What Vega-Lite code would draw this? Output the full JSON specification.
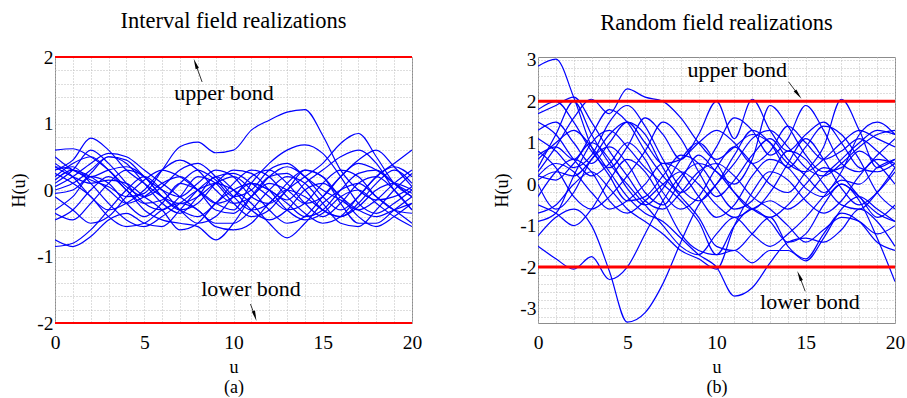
{
"$schema": "https://vega.github.io/schema/vega-lite/v6.json",
"background": "white",
"padding": {"left": 10, "top": 9, "right": 0, "bottom": 0},
"bounds": "flush",
"spacing": 126,
"config": {
  "font": "Liberation Serif, Times New Roman, serif",
  "view": {"stroke": "#8c8c8c", "strokeWidth": 1},
  "axis": {"labelFont": "Liberation Serif, Times New Roman, serif", "labelFontSize": 19.5, "labelColor": "#000000", "labelOverlap": false, "labelFlush": false, "titleFont": "Liberation Serif, Times New Roman, serif", "titleColor": "#000000", "titleFontWeight": "normal", "titleFontSize": 19.5, "domain": false, "ticks": false, "grid": true, "gridColor": "#bdbdbd", "gridDash": [1, 2], "gridWidth": 1},
  "title": {"font": "Liberation Serif, Times New Roman, serif", "fontSize": 22.5, "fontWeight": "normal", "color": "#000000", "offset": 15}
},
"datasets": {
"fieldA": [
{"c":"a1","u":0,"h":0.35},{"c":"a1","u":1,"h":0.3},{"c":"a1","u":2,"h":0.15},{"c":"a1","u":3,"h":0.05},{"c":"a1","u":4,"h":-0.1},{"c":"a1","u":5,"h":-0.05},{"c":"a1","u":6,"h":0.3},{"c":"a1","u":7,"h":0.65},{"c":"a1","u":8,"h":0.72},{"c":"a1","u":9,"h":0.56},{"c":"a1","u":10,"h":0.6},{"c":"a1","u":11,"h":0.9},{"c":"a1","u":12,"h":1.05},{"c":"a1","u":13,"h":1.17},{"c":"a1","u":14,"h":1.21},{"c":"a1","u":15,"h":0.82},{"c":"a1","u":16,"h":0.3},{"c":"a1","u":17,"h":0.0},{"c":"a1","u":18,"h":-0.15},{"c":"a1","u":19,"h":-0.1},{"c":"a1","u":20,"h":0.05},
{"c":"a2","u":0,"h":0.1},{"c":"a2","u":1,"h":0.3},{"c":"a2","u":2,"h":0.6},{"c":"a2","u":3,"h":0.4},{"c":"a2","u":4,"h":0.1},{"c":"a2","u":5,"h":-0.2},{"c":"a2","u":6,"h":-0.3},{"c":"a2","u":7,"h":-0.1},{"c":"a2","u":8,"h":0.2},{"c":"a2","u":9,"h":0.1},{"c":"a2","u":10,"h":-0.2},{"c":"a2","u":11,"h":-0.4},{"c":"a2","u":12,"h":-0.3},{"c":"a2","u":13,"h":0.0},{"c":"a2","u":14,"h":0.2},{"c":"a2","u":15,"h":0.4},{"c":"a2","u":16,"h":0.7},{"c":"a2","u":17,"h":0.85},{"c":"a2","u":18,"h":0.5},{"c":"a2","u":19,"h":0.1},{"c":"a2","u":20,"h":-0.1},
{"c":"a3","u":0,"h":-0.3},{"c":"a3","u":1,"h":-0.1},{"c":"a3","u":2,"h":0.2},{"c":"a3","u":3,"h":0.1},{"c":"a3","u":4,"h":-0.2},{"c":"a3","u":5,"h":-0.4},{"c":"a3","u":6,"h":-0.2},{"c":"a3","u":7,"h":0.1},{"c":"a3","u":8,"h":0.0},{"c":"a3","u":9,"h":-0.2},{"c":"a3","u":10,"h":-0.3},{"c":"a3","u":11,"h":0.1},{"c":"a3","u":12,"h":0.4},{"c":"a3","u":13,"h":0.6},{"c":"a3","u":14,"h":0.68},{"c":"a3","u":15,"h":0.55},{"c":"a3","u":16,"h":0.2},{"c":"a3","u":17,"h":-0.2},{"c":"a3","u":18,"h":-0.35},{"c":"a3","u":19,"h":-0.2},{"c":"a3","u":20,"h":0.0},
{"c":"a4","u":0,"h":-0.85},{"c":"a4","u":1,"h":-0.8},{"c":"a4","u":2,"h":-0.6},{"c":"a4","u":3,"h":-0.3},{"c":"a4","u":4,"h":0.0},{"c":"a4","u":5,"h":0.2},{"c":"a4","u":6,"h":0.0},{"c":"a4","u":7,"h":-0.3},{"c":"a4","u":8,"h":-0.5},{"c":"a4","u":9,"h":-0.4},{"c":"a4","u":10,"h":-0.1},{"c":"a4","u":11,"h":0.1},{"c":"a4","u":12,"h":0.0},{"c":"a4","u":13,"h":-0.2},{"c":"a4","u":14,"h":-0.4},{"c":"a4","u":15,"h":-0.3},{"c":"a4","u":16,"h":0.0},{"c":"a4","u":17,"h":0.25},{"c":"a4","u":18,"h":0.3},{"c":"a4","u":19,"h":0.1},{"c":"a4","u":20,"h":-0.1},
{"c":"a5","u":0,"h":-0.75},{"c":"a5","u":1,"h":-0.85},{"c":"a5","u":2,"h":-0.7},{"c":"a5","u":3,"h":-0.45},{"c":"a5","u":4,"h":-0.35},{"c":"a5","u":5,"h":-0.5},{"c":"a5","u":6,"h":-0.55},{"c":"a5","u":7,"h":-0.3},{"c":"a5","u":8,"h":0.0},{"c":"a5","u":9,"h":0.2},{"c":"a5","u":10,"h":0.25},{"c":"a5","u":11,"h":0.1},{"c":"a5","u":12,"h":-0.1},{"c":"a5","u":13,"h":-0.3},{"c":"a5","u":14,"h":-0.2},{"c":"a5","u":15,"h":0.1},{"c":"a5","u":16,"h":0.3},{"c":"a5","u":17,"h":0.2},{"c":"a5","u":18,"h":-0.1},{"c":"a5","u":19,"h":-0.3},{"c":"a5","u":20,"h":-0.35},
{"c":"a6","u":0,"h":0.3},{"c":"a6","u":1,"h":0.45},{"c":"a6","u":2,"h":0.78},{"c":"a6","u":3,"h":0.6},{"c":"a6","u":4,"h":0.3},{"c":"a6","u":5,"h":0.1},{"c":"a6","u":6,"h":-0.1},{"c":"a6","u":7,"h":-0.2},{"c":"a6","u":8,"h":-0.1},{"c":"a6","u":9,"h":0.1},{"c":"a6","u":10,"h":0.2},{"c":"a6","u":11,"h":0.0},{"c":"a6","u":12,"h":-0.3},{"c":"a6","u":13,"h":-0.5},{"c":"a6","u":14,"h":-0.4},{"c":"a6","u":15,"h":-0.1},{"c":"a6","u":16,"h":0.2},{"c":"a6","u":17,"h":0.4},{"c":"a6","u":18,"h":0.3},{"c":"a6","u":19,"h":0.1},{"c":"a6","u":20,"h":-0.05},
{"c":"a7","u":0,"h":0.6},{"c":"a7","u":1,"h":0.62},{"c":"a7","u":2,"h":0.5},{"c":"a7","u":3,"h":0.3},{"c":"a7","u":4,"h":0.05},{"c":"a7","u":5,"h":-0.1},{"c":"a7","u":6,"h":0.05},{"c":"a7","u":7,"h":0.3},{"c":"a7","u":8,"h":0.4},{"c":"a7","u":9,"h":0.2},{"c":"a7","u":10,"h":-0.1},{"c":"a7","u":11,"h":-0.3},{"c":"a7","u":12,"h":-0.2},{"c":"a7","u":13,"h":0.1},{"c":"a7","u":14,"h":0.3},{"c":"a7","u":15,"h":0.2},{"c":"a7","u":16,"h":-0.1},{"c":"a7","u":17,"h":-0.3},{"c":"a7","u":18,"h":-0.4},{"c":"a7","u":19,"h":-0.3},{"c":"a7","u":20,"h":-0.2},
{"c":"a8","u":0,"h":0.05},{"c":"a8","u":1,"h":0.2},{"c":"a8","u":2,"h":0.4},{"c":"a8","u":3,"h":0.55},{"c":"a8","u":4,"h":0.5},{"c":"a8","u":5,"h":0.3},{"c":"a8","u":6,"h":0.1},{"c":"a8","u":7,"h":-0.1},{"c":"a8","u":8,"h":-0.3},{"c":"a8","u":9,"h":-0.5},{"c":"a8","u":10,"h":-0.5},{"c":"a8","u":11,"h":-0.3},{"c":"a8","u":12,"h":0.0},{"c":"a8","u":13,"h":0.2},{"c":"a8","u":14,"h":0.1},{"c":"a8","u":15,"h":-0.2},{"c":"a8","u":16,"h":-0.5},{"c":"a8","u":17,"h":-0.55},{"c":"a8","u":18,"h":-0.3},{"c":"a8","u":19,"h":0.0},{"c":"a8","u":20,"h":0.25},
{"c":"a9","u":0,"h":0.25},{"c":"a9","u":1,"h":0.1},{"c":"a9","u":2,"h":-0.1},{"c":"a9","u":3,"h":-0.4},{"c":"a9","u":4,"h":-0.55},{"c":"a9","u":5,"h":-0.5},{"c":"a9","u":6,"h":-0.3},{"c":"a9","u":7,"h":-0.2},{"c":"a9","u":8,"h":-0.3},{"c":"a9","u":9,"h":-0.55},{"c":"a9","u":10,"h":-0.6},{"c":"a9","u":11,"h":-0.5},{"c":"a9","u":12,"h":-0.2},{"c":"a9","u":13,"h":0.0},{"c":"a9","u":14,"h":-0.1},{"c":"a9","u":15,"h":-0.3},{"c":"a9","u":16,"h":-0.4},{"c":"a9","u":17,"h":-0.2},{"c":"a9","u":18,"h":0.1},{"c":"a9","u":19,"h":0.3},{"c":"a9","u":20,"h":0.1},
{"c":"a10","u":0,"h":-0.45},{"c":"a10","u":1,"h":-0.3},{"c":"a10","u":2,"h":0.0},{"c":"a10","u":3,"h":0.2},{"c":"a10","u":4,"h":0.0},{"c":"a10","u":5,"h":-0.3},{"c":"a10","u":6,"h":-0.45},{"c":"a10","u":7,"h":-0.5},{"c":"a10","u":8,"h":-0.55},{"c":"a10","u":9,"h":-0.75},{"c":"a10","u":10,"h":-0.5},{"c":"a10","u":11,"h":-0.1},{"c":"a10","u":12,"h":0.2},{"c":"a10","u":13,"h":0.25},{"c":"a10","u":14,"h":0.0},{"c":"a10","u":15,"h":-0.3},{"c":"a10","u":16,"h":-0.4},{"c":"a10","u":17,"h":-0.25},{"c":"a10","u":18,"h":0.0},{"c":"a10","u":19,"h":0.1},{"c":"a10","u":20,"h":0.0},
{"c":"a11","u":0,"h":0.3},{"c":"a11","u":1,"h":0.35},{"c":"a11","u":2,"h":0.1},{"c":"a11","u":3,"h":-0.2},{"c":"a11","u":4,"h":-0.45},{"c":"a11","u":5,"h":-0.55},{"c":"a11","u":6,"h":-0.4},{"c":"a11","u":7,"h":-0.2},{"c":"a11","u":8,"h":0.0},{"c":"a11","u":9,"h":0.1},{"c":"a11","u":10,"h":0.0},{"c":"a11","u":11,"h":-0.2},{"c":"a11","u":12,"h":-0.5},{"c":"a11","u":13,"h":-0.72},{"c":"a11","u":14,"h":-0.5},{"c":"a11","u":15,"h":-0.2},{"c":"a11","u":16,"h":0.0},{"c":"a11","u":17,"h":0.1},{"c":"a11","u":18,"h":-0.1},{"c":"a11","u":19,"h":-0.3},{"c":"a11","u":20,"h":-0.5},
{"c":"a12","u":0,"h":0.0},{"c":"a12","u":1,"h":0.1},{"c":"a12","u":2,"h":0.3},{"c":"a12","u":3,"h":0.5},{"c":"a12","u":4,"h":0.45},{"c":"a12","u":5,"h":0.2},{"c":"a12","u":6,"h":0.0},{"c":"a12","u":7,"h":-0.1},{"c":"a12","u":8,"h":0.1},{"c":"a12","u":9,"h":0.3},{"c":"a12","u":10,"h":0.2},{"c":"a12","u":11,"h":-0.1},{"c":"a12","u":12,"h":-0.2},{"c":"a12","u":13,"h":0.0},{"c":"a12","u":14,"h":0.3},{"c":"a12","u":15,"h":0.2},{"c":"a12","u":16,"h":-0.2},{"c":"a12","u":17,"h":-0.5},{"c":"a12","u":18,"h":-0.5},{"c":"a12","u":19,"h":-0.3},{"c":"a12","u":20,"h":-0.1},
{"c":"a13","u":0,"h":0.4},{"c":"a13","u":1,"h":0.2},{"c":"a13","u":2,"h":-0.1},{"c":"a13","u":3,"h":-0.3},{"c":"a13","u":4,"h":-0.2},{"c":"a13","u":5,"h":0.0},{"c":"a13","u":6,"h":0.3},{"c":"a13","u":7,"h":0.45},{"c":"a13","u":8,"h":0.3},{"c":"a13","u":9,"h":0.0},{"c":"a13","u":10,"h":-0.2},{"c":"a13","u":11,"h":-0.1},{"c":"a13","u":12,"h":0.2},{"c":"a13","u":13,"h":0.35},{"c":"a13","u":14,"h":0.2},{"c":"a13","u":15,"h":-0.1},{"c":"a13","u":16,"h":-0.3},{"c":"a13","u":17,"h":-0.1},{"c":"a13","u":18,"h":0.2},{"c":"a13","u":19,"h":0.35},{"c":"a13","u":20,"h":0.2},
{"c":"a14","u":0,"h":-0.1},{"c":"a14","u":1,"h":-0.3},{"c":"a14","u":2,"h":-0.5},{"c":"a14","u":3,"h":-0.4},{"c":"a14","u":4,"h":-0.1},{"c":"a14","u":5,"h":0.15},{"c":"a14","u":6,"h":0.3},{"c":"a14","u":7,"h":0.2},{"c":"a14","u":8,"h":0.0},{"c":"a14","u":9,"h":-0.2},{"c":"a14","u":10,"h":-0.1},{"c":"a14","u":11,"h":0.2},{"c":"a14","u":12,"h":0.3},{"c":"a14","u":13,"h":0.1},{"c":"a14","u":14,"h":-0.2},{"c":"a14","u":15,"h":-0.4},{"c":"a14","u":16,"h":-0.2},{"c":"a14","u":17,"h":0.1},{"c":"a14","u":18,"h":0.2},{"c":"a14","u":19,"h":0.0},{"c":"a14","u":20,"h":-0.3},
{"c":"a15","u":0,"h":0.5},{"c":"a15","u":1,"h":0.3},{"c":"a15","u":2,"h":0.2},{"c":"a15","u":3,"h":0.3},{"c":"a15","u":4,"h":0.35},{"c":"a15","u":5,"h":0.2},{"c":"a15","u":6,"h":-0.1},{"c":"a15","u":7,"h":-0.3},{"c":"a15","u":8,"h":-0.4},{"c":"a15","u":9,"h":-0.2},{"c":"a15","u":10,"h":0.1},{"c":"a15","u":11,"h":0.3},{"c":"a15","u":12,"h":0.2},{"c":"a15","u":13,"h":-0.1},{"c":"a15","u":14,"h":-0.35},{"c":"a15","u":15,"h":-0.5},{"c":"a15","u":16,"h":-0.4},{"c":"a15","u":17,"h":-0.1},{"c":"a15","u":18,"h":0.2},{"c":"a15","u":19,"h":0.4},{"c":"a15","u":20,"h":0.6},
{"c":"a16","u":0,"h":0.15},{"c":"a16","u":1,"h":0.3},{"c":"a16","u":2,"h":0.2},{"c":"a16","u":3,"h":0.0},{"c":"a16","u":4,"h":-0.2},{"c":"a16","u":5,"h":-0.1},{"c":"a16","u":6,"h":0.1},{"c":"a16","u":7,"h":0.2},{"c":"a16","u":8,"h":0.0},{"c":"a16","u":9,"h":-0.3},{"c":"a16","u":10,"h":-0.35},{"c":"a16","u":11,"h":-0.1},{"c":"a16","u":12,"h":0.1},{"c":"a16","u":13,"h":0.0},{"c":"a16","u":14,"h":-0.2},{"c":"a16","u":15,"h":-0.1},{"c":"a16","u":16,"h":0.2},{"c":"a16","u":17,"h":0.45},{"c":"a16","u":18,"h":0.6},{"c":"a16","u":19,"h":0.35},{"c":"a16","u":20,"h":0.05},
{"c":"a17","u":0,"h":-0.35},{"c":"a17","u":1,"h":-0.45},{"c":"a17","u":2,"h":-0.2},{"c":"a17","u":3,"h":0.1},{"c":"a17","u":4,"h":0.3},{"c":"a17","u":5,"h":0.2},{"c":"a17","u":6,"h":-0.1},{"c":"a17","u":7,"h":-0.3},{"c":"a17","u":8,"h":-0.2},{"c":"a17","u":9,"h":0.1},{"c":"a17","u":10,"h":0.3},{"c":"a17","u":11,"h":0.25},{"c":"a17","u":12,"h":0.0},{"c":"a17","u":13,"h":-0.3},{"c":"a17","u":14,"h":-0.45},{"c":"a17","u":15,"h":-0.35},{"c":"a17","u":16,"h":-0.1},{"c":"a17","u":17,"h":0.0},{"c":"a17","u":18,"h":-0.2},{"c":"a17","u":19,"h":-0.4},{"c":"a17","u":20,"h":-0.55},
{"c":"a18","u":0,"h":0.2},{"c":"a18","u":1,"h":0.4},{"c":"a18","u":2,"h":0.5},{"c":"a18","u":3,"h":0.3},{"c":"a18","u":4,"h":0.0},{"c":"a18","u":5,"h":-0.2},{"c":"a18","u":6,"h":-0.15},{"c":"a18","u":7,"h":0.1},{"c":"a18","u":8,"h":0.3},{"c":"a18","u":9,"h":0.15},{"c":"a18","u":10,"h":-0.1},{"c":"a18","u":11,"h":0.0},{"c":"a18","u":12,"h":0.3},{"c":"a18","u":13,"h":0.4},{"c":"a18","u":14,"h":0.2},{"c":"a18","u":15,"h":0.0},{"c":"a18","u":16,"h":-0.15},{"c":"a18","u":17,"h":-0.3},{"c":"a18","u":18,"h":-0.15},{"c":"a18","u":19,"h":0.1},{"c":"a18","u":20,"h":0.3},
{"c":"a19","u":0,"h":0.35},{"c":"a19","u":1,"h":0.2},{"c":"a19","u":2,"h":0.1},{"c":"a19","u":3,"h":0.15},{"c":"a19","u":4,"h":0.1},{"c":"a19","u":5,"h":-0.1},{"c":"a19","u":6,"h":-0.3},{"c":"a19","u":7,"h":-0.6},{"c":"a19","u":8,"h":-0.5},{"c":"a19","u":9,"h":-0.2},{"c":"a19","u":10,"h":0.0},{"c":"a19","u":11,"h":0.1},{"c":"a19","u":12,"h":0.0},{"c":"a19","u":13,"h":-0.15},{"c":"a19","u":14,"h":0.1},{"c":"a19","u":15,"h":0.3},{"c":"a19","u":16,"h":0.5},{"c":"a19","u":17,"h":0.6},{"c":"a19","u":18,"h":0.4},{"c":"a19","u":19,"h":0.0},{"c":"a19","u":20,"h":-0.3},
{"c":"a20","u":0,"h":-0.05},{"c":"a20","u":1,"h":0.0},{"c":"a20","u":2,"h":0.25},{"c":"a20","u":3,"h":0.5},{"c":"a20","u":4,"h":0.4},{"c":"a20","u":5,"h":0.1},{"c":"a20","u":6,"h":-0.2},{"c":"a20","u":7,"h":-0.35},{"c":"a20","u":8,"h":-0.1},{"c":"a20","u":9,"h":0.2},{"c":"a20","u":10,"h":0.0},{"c":"a20","u":11,"h":-0.3},{"c":"a20","u":12,"h":-0.45},{"c":"a20","u":13,"h":-0.3},{"c":"a20","u":14,"h":0.0},{"c":"a20","u":15,"h":0.1},{"c":"a20","u":16,"h":-0.1},{"c":"a20","u":17,"h":-0.4},{"c":"a20","u":18,"h":-0.55},{"c":"a20","u":19,"h":-0.4},{"c":"a20","u":20,"h":-0.2}
],
"fieldB": [
{"c":"b1","u":0,"h":2.85},{"c":"b1","u":1,"h":3.02},{"c":"b1","u":2,"h":2.1},{"c":"b1","u":3,"h":0.9},{"c":"b1","u":4,"h":0.2},{"c":"b1","u":5,"h":-0.4},{"c":"b1","u":6,"h":-0.3},{"c":"b1","u":7,"h":0.2},{"c":"b1","u":8,"h":0.7},{"c":"b1","u":9,"h":0.5},{"c":"b1","u":10,"h":-0.1},{"c":"b1","u":11,"h":-0.6},{"c":"b1","u":12,"h":-0.4},{"c":"b1","u":13,"h":0.2},{"c":"b1","u":14,"h":0.8},{"c":"b1","u":15,"h":0.6},{"c":"b1","u":16,"h":0.0},{"c":"b1","u":17,"h":-0.5},{"c":"b1","u":18,"h":-0.6},{"c":"b1","u":19,"h":-0.2},{"c":"b1","u":20,"h":0.4},
{"c":"b2","u":0,"h":-1.5},{"c":"b2","u":1,"h":-1.8},{"c":"b2","u":2,"h":-2.05},{"c":"b2","u":3,"h":-1.75},{"c":"b2","u":4,"h":-2.3},{"c":"b2","u":5,"h":-2.0},{"c":"b2","u":6,"h":-1.2},{"c":"b2","u":7,"h":-0.4},{"c":"b2","u":8,"h":0.2},{"c":"b2","u":9,"h":0.5},{"c":"b2","u":10,"h":0.3},{"c":"b2","u":11,"h":-0.2},{"c":"b2","u":12,"h":-0.6},{"c":"b2","u":13,"h":-0.8},{"c":"b2","u":14,"h":-0.5},{"c":"b2","u":15,"h":0.0},{"c":"b2","u":16,"h":0.4},{"c":"b2","u":17,"h":0.2},{"c":"b2","u":18,"h":-0.3},{"c":"b2","u":19,"h":-0.7},{"c":"b2","u":20,"h":-0.9},
{"c":"b3","u":0,"h":-1.25},{"c":"b3","u":1,"h":-0.8},{"c":"b3","u":2,"h":-0.6},{"c":"b3","u":3,"h":-1.0},{"c":"b3","u":4,"h":-2.1},{"c":"b3","u":5,"h":-3.33},{"c":"b3","u":6,"h":-3.1},{"c":"b3","u":7,"h":-2.4},{"c":"b3","u":8,"h":-1.4},{"c":"b3","u":9,"h":-0.5},{"c":"b3","u":10,"h":0.0},{"c":"b3","u":11,"h":0.5},{"c":"b3","u":12,"h":1.1},{"c":"b3","u":13,"h":1.3},{"c":"b3","u":14,"h":0.9},{"c":"b3","u":15,"h":0.4},{"c":"b3","u":16,"h":0.2},{"c":"b3","u":17,"h":0.5},{"c":"b3","u":18,"h":0.9},{"c":"b3","u":19,"h":1.2},{"c":"b3","u":20,"h":1.3},
{"c":"b4","u":0,"h":0.6},{"c":"b4","u":1,"h":1.0},{"c":"b4","u":2,"h":1.3},{"c":"b4","u":3,"h":0.9},{"c":"b4","u":4,"h":0.3},{"c":"b4","u":5,"h":-0.3},{"c":"b4","u":6,"h":-0.7},{"c":"b4","u":7,"h":-0.9},{"c":"b4","u":8,"h":-1.3},{"c":"b4","u":9,"h":-1.7},{"c":"b4","u":10,"h":-2.0},{"c":"b4","u":11,"h":-2.7},{"c":"b4","u":12,"h":-2.5},{"c":"b4","u":13,"h":-1.9},{"c":"b4","u":14,"h":-1.4},{"c":"b4","u":15,"h":-1.3},{"c":"b4","u":16,"h":-1.4},{"c":"b4","u":17,"h":-1.1},{"c":"b4","u":18,"h":-0.6},{"c":"b4","u":19,"h":-0.9},{"c":"b4","u":20,"h":-1.5},
{"c":"b5","u":0,"h":0.2},{"c":"b5","u":1,"h":0.5},{"c":"b5","u":2,"h":0.3},{"c":"b5","u":3,"h":-0.2},{"c":"b5","u":4,"h":-0.6},{"c":"b5","u":5,"h":-0.4},{"c":"b5","u":6,"h":0.0},{"c":"b5","u":7,"h":0.5},{"c":"b5","u":8,"h":0.3},{"c":"b5","u":9,"h":-0.3},{"c":"b5","u":10,"h":-0.8},{"c":"b5","u":11,"h":-0.5},{"c":"b5","u":12,"h":0.2},{"c":"b5","u":13,"h":0.6},{"c":"b5","u":14,"h":0.4},{"c":"b5","u":15,"h":-0.1},{"c":"b5","u":16,"h":-0.3},{"c":"b5","u":17,"h":0.0},{"c":"b5","u":18,"h":-0.4},{"c":"b5","u":19,"h":-1.3},{"c":"b5","u":20,"h":-2.35},
{"c":"b6","u":0,"h":1.5},{"c":"b6","u":1,"h":1.2},{"c":"b6","u":2,"h":0.6},{"c":"b6","u":3,"h":0.2},{"c":"b6","u":4,"h":0.5},{"c":"b6","u":5,"h":1.0},{"c":"b6","u":6,"h":0.6},{"c":"b6","u":7,"h":-0.2},{"c":"b6","u":8,"h":-0.6},{"c":"b6","u":9,"h":-0.3},{"c":"b6","u":10,"h":0.4},{"c":"b6","u":11,"h":0.9},{"c":"b6","u":12,"h":0.5},{"c":"b6","u":13,"h":0.0},{"c":"b6","u":14,"h":-0.2},{"c":"b6","u":15,"h":0.3},{"c":"b6","u":16,"h":0.9},{"c":"b6","u":17,"h":2.05},{"c":"b6","u":18,"h":1.3},{"c":"b6","u":19,"h":0.4},{"c":"b6","u":20,"h":0.6},
{"c":"b7","u":0,"h":0.3},{"c":"b7","u":1,"h":0.9},{"c":"b7","u":2,"h":1.6},{"c":"b7","u":3,"h":2.05},{"c":"b7","u":4,"h":1.7},{"c":"b7","u":5,"h":2.3},{"c":"b7","u":6,"h":2.1},{"c":"b7","u":7,"h":2.0},{"c":"b7","u":8,"h":1.6},{"c":"b7","u":9,"h":1.0},{"c":"b7","u":10,"h":0.6},{"c":"b7","u":11,"h":0.9},{"c":"b7","u":12,"h":1.2},{"c":"b7","u":13,"h":1.0},{"c":"b7","u":14,"h":0.5},{"c":"b7","u":15,"h":0.3},{"c":"b7","u":16,"h":0.6},{"c":"b7","u":17,"h":1.0},{"c":"b7","u":18,"h":1.3},{"c":"b7","u":19,"h":1.1},{"c":"b7","u":20,"h":0.9},
{"c":"b8","u":0,"h":1.8},{"c":"b8","u":1,"h":2.0},{"c":"b8","u":2,"h":1.5},{"c":"b8","u":3,"h":0.8},{"c":"b8","u":4,"h":0.4},{"c":"b8","u":5,"h":0.9},{"c":"b8","u":6,"h":1.6},{"c":"b8","u":7,"h":1.2},{"c":"b8","u":8,"h":0.6},{"c":"b8","u":9,"h":1.2},{"c":"b8","u":10,"h":2.0},{"c":"b8","u":11,"h":1.1},{"c":"b8","u":12,"h":2.05},{"c":"b8","u":13,"h":1.3},{"c":"b8","u":14,"h":0.8},{"c":"b8","u":15,"h":1.2},{"c":"b8","u":16,"h":1.5},{"c":"b8","u":17,"h":1.0},{"c":"b8","u":18,"h":0.4},{"c":"b8","u":19,"h":0.3},{"c":"b8","u":20,"h":0.5},
{"c":"b9","u":0,"h":-0.7},{"c":"b9","u":1,"h":-0.5},{"c":"b9","u":2,"h":0.0},{"c":"b9","u":3,"h":0.3},{"c":"b9","u":4,"h":-0.1},{"c":"b9","u":5,"h":-0.6},{"c":"b9","u":6,"h":-0.9},{"c":"b9","u":7,"h":-1.2},{"c":"b9","u":8,"h":-1.6},{"c":"b9","u":9,"h":-1.8},{"c":"b9","u":10,"h":-2.05},{"c":"b9","u":11,"h":-1.0},{"c":"b9","u":12,"h":-0.2},{"c":"b9","u":13,"h":0.3},{"c":"b9","u":14,"h":0.1},{"c":"b9","u":15,"h":-0.4},{"c":"b9","u":16,"h":-0.7},{"c":"b9","u":17,"h":-0.4},{"c":"b9","u":18,"h":0.2},{"c":"b9","u":19,"h":0.6},{"c":"b9","u":20,"h":0.5},
{"c":"b10","u":0,"h":1.7},{"c":"b10","u":1,"h":1.9},{"c":"b10","u":2,"h":2.1},{"c":"b10","u":3,"h":1.5},{"c":"b10","u":4,"h":0.8},{"c":"b10","u":5,"h":0.2},{"c":"b10","u":6,"h":-0.4},{"c":"b10","u":7,"h":-0.6},{"c":"b10","u":8,"h":-0.2},{"c":"b10","u":9,"h":0.3},{"c":"b10","u":10,"h":0.5},{"c":"b10","u":11,"h":0.2},{"c":"b10","u":12,"h":-0.3},{"c":"b10","u":13,"h":-0.6},{"c":"b10","u":14,"h":-1.0},{"c":"b10","u":15,"h":-1.4},{"c":"b10","u":16,"h":-1.1},{"c":"b10","u":17,"h":-0.8},{"c":"b10","u":18,"h":-0.9},{"c":"b10","u":19,"h":-1.2},{"c":"b10","u":20,"h":-1.0},
{"c":"b11","u":0,"h":0.7},{"c":"b11","u":1,"h":0.9},{"c":"b11","u":2,"h":0.6},{"c":"b11","u":3,"h":1.2},{"c":"b11","u":4,"h":1.8},{"c":"b11","u":5,"h":1.5},{"c":"b11","u":6,"h":0.8},{"c":"b11","u":7,"h":0.2},{"c":"b11","u":8,"h":-0.3},{"c":"b11","u":9,"h":-0.8},{"c":"b11","u":10,"h":-1.5},{"c":"b11","u":11,"h":-1.6},{"c":"b11","u":12,"h":-1.2},{"c":"b11","u":13,"h":-0.8},{"c":"b11","u":14,"h":-1.5},{"c":"b11","u":15,"h":-1.8},{"c":"b11","u":16,"h":-1.2},{"c":"b11","u":17,"h":-0.7},{"c":"b11","u":18,"h":-0.9},{"c":"b11","u":19,"h":-1.4},{"c":"b11","u":20,"h":-1.6},
{"c":"b12","u":0,"h":0.0},{"c":"b12","u":1,"h":-0.6},{"c":"b12","u":2,"h":-0.2},{"c":"b12","u":3,"h":0.6},{"c":"b12","u":4,"h":0.9},{"c":"b12","u":5,"h":0.5},{"c":"b12","u":6,"h":-0.2},{"c":"b12","u":7,"h":-0.5},{"c":"b12","u":8,"h":0.1},{"c":"b12","u":9,"h":0.7},{"c":"b12","u":10,"h":0.3},{"c":"b12","u":11,"h":0.0},{"c":"b12","u":12,"h":0.6},{"c":"b12","u":13,"h":1.9},{"c":"b12","u":14,"h":1.4},{"c":"b12","u":15,"h":0.7},{"c":"b12","u":16,"h":0.3},{"c":"b12","u":17,"h":0.4},{"c":"b12","u":18,"h":0.8},{"c":"b12","u":19,"h":0.5},{"c":"b12","u":20,"h":0.0},
{"c":"b13","u":0,"h":1.3},{"c":"b13","u":1,"h":1.5},{"c":"b13","u":2,"h":1.0},{"c":"b13","u":3,"h":0.5},{"c":"b13","u":4,"h":1.0},{"c":"b13","u":5,"h":1.5},{"c":"b13","u":6,"h":1.2},{"c":"b13","u":7,"h":0.4},{"c":"b13","u":8,"h":-0.2},{"c":"b13","u":9,"h":0.2},{"c":"b13","u":10,"h":0.9},{"c":"b13","u":11,"h":1.6},{"c":"b13","u":12,"h":1.3},{"c":"b13","u":13,"h":0.7},{"c":"b13","u":14,"h":1.1},{"c":"b13","u":15,"h":1.9},{"c":"b13","u":16,"h":1.3},{"c":"b13","u":17,"h":0.5},{"c":"b13","u":18,"h":0.3},{"c":"b13","u":19,"h":0.7},{"c":"b13","u":20,"h":1.1},
{"c":"b14","u":0,"h":-0.5},{"c":"b14","u":1,"h":-0.7},{"c":"b14","u":2,"h":-1.0},{"c":"b14","u":3,"h":-0.6},{"c":"b14","u":4,"h":0.1},{"c":"b14","u":5,"h":0.6},{"c":"b14","u":6,"h":0.3},{"c":"b14","u":7,"h":-0.4},{"c":"b14","u":8,"h":-1.2},{"c":"b14","u":9,"h":-1.6},{"c":"b14","u":10,"h":-1.7},{"c":"b14","u":11,"h":-1.0},{"c":"b14","u":12,"h":-0.6},{"c":"b14","u":13,"h":-0.9},{"c":"b14","u":14,"h":-1.4},{"c":"b14","u":15,"h":-1.2},{"c":"b14","u":16,"h":-0.5},{"c":"b14","u":17,"h":0.0},{"c":"b14","u":18,"h":-0.3},{"c":"b14","u":19,"h":-0.8},{"c":"b14","u":20,"h":-0.5},
{"c":"b15","u":0,"h":0.2},{"c":"b15","u":1,"h":0.1},{"c":"b15","u":2,"h":0.5},{"c":"b15","u":3,"h":1.0},{"c":"b15","u":4,"h":0.6},{"c":"b15","u":5,"h":-0.1},{"c":"b15","u":6,"h":-0.5},{"c":"b15","u":7,"h":-0.1},{"c":"b15","u":8,"h":0.6},{"c":"b15","u":9,"h":1.0},{"c":"b15","u":10,"h":0.5},{"c":"b15","u":11,"h":-0.2},{"c":"b15","u":12,"h":-0.6},{"c":"b15","u":13,"h":-0.2},{"c":"b15","u":14,"h":0.5},{"c":"b15","u":15,"h":1.1},{"c":"b15","u":16,"h":0.6},{"c":"b15","u":17,"h":-0.1},{"c":"b15","u":18,"h":-0.5},{"c":"b15","u":19,"h":-0.2},{"c":"b15","u":20,"h":0.3},
{"c":"b16","u":0,"h":0.8},{"c":"b16","u":1,"h":0.4},{"c":"b16","u":2,"h":-0.3},{"c":"b16","u":3,"h":-0.6},{"c":"b16","u":4,"h":-0.3},{"c":"b16","u":5,"h":0.2},{"c":"b16","u":6,"h":0.8},{"c":"b16","u":7,"h":1.5},{"c":"b16","u":8,"h":1.1},{"c":"b16","u":9,"h":0.3},{"c":"b16","u":10,"h":-0.3},{"c":"b16","u":11,"h":0.1},{"c":"b16","u":12,"h":0.7},{"c":"b16","u":13,"h":1.1},{"c":"b16","u":14,"h":0.6},{"c":"b16","u":15,"h":0.2},{"c":"b16","u":16,"h":-0.2},{"c":"b16","u":17,"h":0.3},{"c":"b16","u":18,"h":1.2},{"c":"b16","u":19,"h":1.5},{"c":"b16","u":20,"h":1.2},
{"c":"b17","u":0,"h":-0.9},{"c":"b17","u":1,"h":-0.7},{"c":"b17","u":2,"h":0.2},{"c":"b17","u":3,"h":1.0},{"c":"b17","u":4,"h":1.3},{"c":"b17","u":5,"h":0.9},{"c":"b17","u":6,"h":0.4},{"c":"b17","u":7,"h":0.0},{"c":"b17","u":8,"h":-0.4},{"c":"b17","u":9,"h":-0.9},{"c":"b17","u":10,"h":-1.7},{"c":"b17","u":11,"h":-1.6},{"c":"b17","u":12,"h":-1.9},{"c":"b17","u":13,"h":-1.6},{"c":"b17","u":14,"h":-1.6},{"c":"b17","u":15,"h":-1.85},{"c":"b17","u":16,"h":-1.3},{"c":"b17","u":17,"h":-0.6},{"c":"b17","u":18,"h":-0.3},{"c":"b17","u":19,"h":-0.6},{"c":"b17","u":20,"h":-0.9},
{"c":"b18","u":0,"h":0.4},{"c":"b18","u":1,"h":1.2},{"c":"b18","u":2,"h":2.0},{"c":"b18","u":3,"h":1.2},{"c":"b18","u":4,"h":0.5},{"c":"b18","u":5,"h":0.0},{"c":"b18","u":6,"h":-0.5},{"c":"b18","u":7,"h":-1.0},{"c":"b18","u":8,"h":-1.5},{"c":"b18","u":9,"h":-1.7},{"c":"b18","u":10,"h":-1.2},{"c":"b18","u":11,"h":-0.8},{"c":"b18","u":12,"h":-1.2},{"c":"b18","u":13,"h":-1.5},{"c":"b18","u":14,"h":-1.2},{"c":"b18","u":15,"h":-0.8},{"c":"b18","u":16,"h":-0.3},{"c":"b18","u":17,"h":0.1},{"c":"b18","u":18,"h":0.0},{"c":"b18","u":19,"h":0.4},{"c":"b18","u":20,"h":0.6},
{"c":"b19","u":0,"h":0.1},{"c":"b19","u":1,"h":0.3},{"c":"b19","u":2,"h":0.2},{"c":"b19","u":3,"h":0.6},{"c":"b19","u":4,"h":1.2},{"c":"b19","u":5,"h":1.5},{"c":"b19","u":6,"h":1.0},{"c":"b19","u":7,"h":0.5},{"c":"b19","u":8,"h":0.6},{"c":"b19","u":9,"h":1.0},{"c":"b19","u":10,"h":1.3},{"c":"b19","u":11,"h":1.0},{"c":"b19","u":12,"h":0.5},{"c":"b19","u":13,"h":0.8},{"c":"b19","u":14,"h":1.4},{"c":"b19","u":15,"h":1.0},{"c":"b19","u":16,"h":0.6},{"c":"b19","u":17,"h":0.8},{"c":"b19","u":18,"h":1.1},{"c":"b19","u":19,"h":0.8},{"c":"b19","u":20,"h":0.4},
{"c":"b20","u":0,"h":-0.3},{"c":"b20","u":1,"h":0.3},{"c":"b20","u":2,"h":0.6},{"c":"b20","u":3,"h":0.3},{"c":"b20","u":4,"h":-0.4},{"c":"b20","u":5,"h":-0.7},{"c":"b20","u":6,"h":-0.4},{"c":"b20","u":7,"h":0.0},{"c":"b20","u":8,"h":0.3},{"c":"b20","u":9,"h":0.0},{"c":"b20","u":10,"h":-0.5},{"c":"b20","u":11,"h":-0.8},{"c":"b20","u":12,"h":-0.6},{"c":"b20","u":13,"h":-0.4},{"c":"b20","u":14,"h":-0.6},{"c":"b20","u":15,"h":-0.3},{"c":"b20","u":16,"h":0.2},{"c":"b20","u":17,"h":0.6},{"c":"b20","u":18,"h":1.0},{"c":"b20","u":19,"h":1.3},{"c":"b20","u":20,"h":1.2},
{"c":"b21","u":0,"h":1.1},{"c":"b21","u":1,"h":0.8},{"c":"b21","u":2,"h":0.4},{"c":"b21","u":3,"h":0.7},{"c":"b21","u":4,"h":1.5},{"c":"b21","u":5,"h":1.9},{"c":"b21","u":6,"h":1.4},{"c":"b21","u":7,"h":0.6},{"c":"b21","u":8,"h":-0.1},{"c":"b21","u":9,"h":-0.4},{"c":"b21","u":10,"h":0.0},{"c":"b21","u":11,"h":0.7},{"c":"b21","u":12,"h":1.3},{"c":"b21","u":13,"h":1.0},{"c":"b21","u":14,"h":0.4},{"c":"b21","u":15,"h":0.9},{"c":"b21","u":16,"h":1.4},{"c":"b21","u":17,"h":1.2},{"c":"b21","u":18,"h":0.6},{"c":"b21","u":19,"h":-0.2},{"c":"b21","u":20,"h":-0.6}
]
},
"hconcat": [
{
  "width": 357, "height": 266,
  "title": "Interval field realizations",
  "encoding": {
    "x": {"field": "u", "type": "quantitative", "scale": {"domain": [0, 20], "nice": false, "zero": false},
          "axis": {"values": [0,1,2,3,4,5,6,7,8,9,10,11,12,13,14,15,16,17,18,19,20], "labelExpr": "datum.value % 5 === 0 ? toString(datum.value) : ''", "labelPadding": 10, "title": ["u", "(a)"], "titleFontSize": 18, "titleLineHeight": 20, "titlePadding": 7}},
    "y": {"field": "h", "type": "quantitative", "scale": {"domain": [-2, 2], "nice": false, "zero": false},
          "axis": {"values": [-2,-1.8,-1.6,-1.4,-1.2,-1,-0.8,-0.6,-0.4,-0.2,0,0.2,0.4,0.6,0.8,1,1.2,1.4,1.6,1.8,2], "labelExpr": "abs(datum.value - round(datum.value)) < 0.001 ? toString(round(datum.value)) : ''", "labelPadding": 2, "title": "H(u)", "titleFontSize": 18, "titlePadding": 8}}
  },
  "layer": [
    {
      "data": {"name": "fieldA"},
      "mark": {"type": "line", "interpolate": "monotone", "color": "#0000ff", "strokeWidth": 1.2, "clip": true},
      "encoding": {"detail": {"field": "c", "type": "nominal"}}
    },
    {"data": {"values": [{"u": 0, "u2": 20, "h": 2}, {"u": 0, "u2": 20, "h": -2}]}, "mark": {"type": "rule", "color": "#ff0000", "strokeWidth": 2.2}, "encoding": {"x2": {"field": "u2"}}},
    {"data": {"values": [{"u": 9.47, "h": 1.46, "t": "upper bond"}, {"u": 10.98, "h": -1.49, "t": "lower bond"}]}, "mark": {"type": "text", "fontSize": 22, "font": "Liberation Serif, Times New Roman, serif", "color": "#000000", "align": "center", "baseline": "middle"}, "encoding": {"text": {"field": "t"}}},
    {"data": {"values": [{"u": 8.24, "h": 1.625, "u2": 7.87, "h2": 1.9}, {"u": 10.95, "h": -1.715, "u2": 11.2, "h2": -1.895}]}, "mark": {"type": "rule", "color": "#000000", "strokeWidth": 0.8}, "encoding": {"x2": {"field": "u2"}, "y2": {"field": "h2"}}},
    {"data": {"values": [{"u": 7.87, "h": 1.9}]}, "mark": {"type": "point", "shape": "M0,-1L0.32,1L-0.32,1Z", "filled": true, "color": "#000000", "size": 110, "opacity": 1, "angle": -20}},
    {"data": {"values": [{"u": 11.2, "h": -1.895}]}, "mark": {"type": "point", "shape": "M0,-1L0.32,1L-0.32,1Z", "filled": true, "color": "#000000", "size": 110, "opacity": 1, "angle": 163}}
  ]
},
{
  "width": 357, "height": 266,
  "title": "Random field realizations",
  "encoding": {
    "x": {"field": "u", "type": "quantitative", "scale": {"domain": [0, 20], "nice": false, "zero": false},
          "axis": {"values": [0,1,2,3,4,5,6,7,8,9,10,11,12,13,14,15,16,17,18,19,20], "labelExpr": "datum.value % 5 === 0 ? toString(datum.value) : ''", "labelPadding": 10, "title": ["u", "(b)"], "titleFontSize": 18, "titleLineHeight": 20, "titlePadding": 7}},
    "y": {"field": "h", "type": "quantitative", "scale": {"domain": [-3.35, 3.07], "nice": false, "zero": false},
          "axis": {"values": [-3.2,-3,-2.8,-2.6,-2.4,-2.2,-2,-1.8,-1.6,-1.4,-1.2,-1,-0.8,-0.6,-0.4,-0.2,0,0.2,0.4,0.6,0.8,1,1.2,1.4,1.6,1.8,2,2.2,2.4,2.6,2.8,3], "labelExpr": "abs(datum.value - round(datum.value)) < 0.001 ? toString(round(datum.value)) : ''", "labelPadding": 2, "title": "H(u)", "titleFontSize": 18, "titlePadding": 8}}
  },
  "layer": [
    {
      "data": {"name": "fieldB"},
      "mark": {"type": "line", "interpolate": "monotone", "color": "#0000ff", "strokeWidth": 1.2, "clip": true},
      "encoding": {"detail": {"field": "c", "type": "nominal"}}
    },
    {"data": {"values": [{"u": 0, "u2": 20, "h": 2}, {"u": 0, "u2": 20, "h": -2}]}, "mark": {"type": "rule", "color": "#ff0000", "strokeWidth": 3}, "encoding": {"x2": {"field": "u2"}}},
    {"data": {"values": [{"u": 11.16, "h": 2.75, "t": "upper bond"}, {"u": 15.23, "h": -2.85, "t": "lower bond"}]}, "mark": {"type": "text", "fontSize": 22, "font": "Liberation Serif, Times New Roman, serif", "color": "#000000", "align": "center", "baseline": "middle"}, "encoding": {"text": {"field": "t"}}},
    {"data": {"values": [{"u": 14.04, "h": 2.47, "u2": 14.58, "h2": 2.16}, {"u": 14.97, "h": -2.585, "u2": 14.64, "h2": -2.21}]}, "mark": {"type": "rule", "color": "#000000", "strokeWidth": 0.8}, "encoding": {"x2": {"field": "u2"}, "y2": {"field": "h2"}}},
    {"data": {"values": [{"u": 14.58, "h": 2.16}]}, "mark": {"type": "point", "shape": "M0,-1L0.32,1L-0.32,1Z", "filled": true, "color": "#000000", "size": 110, "opacity": 1, "angle": 142}},
    {"data": {"values": [{"u": 14.64, "h": -2.21}]}, "mark": {"type": "point", "shape": "M0,-1L0.32,1L-0.32,1Z", "filled": true, "color": "#000000", "size": 110, "opacity": 1, "angle": -23}}
  ]
}
]
}
